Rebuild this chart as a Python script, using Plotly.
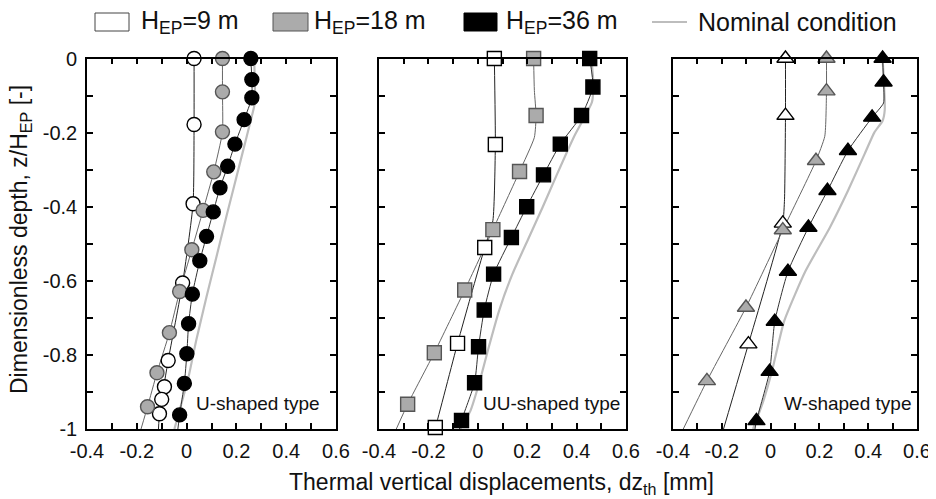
import plotly.graph_objects as go

# ---------------- data ----------------
# Panel 1: U-shaped type (circles)
u9_x = [0.03, 0.03, 0.026, -0.016, -0.074, -0.089, -0.10, -0.109]
u9_y = [0, -0.178, -0.392, -0.606, -0.815, -0.886, -0.92, -0.959]
u9_lx = [0.03, 0.03, 0.026, -0.016, -0.074, -0.109, -0.113]
u9_ly = [0, -0.178, -0.392, -0.606, -0.815, -0.959, -1.0]

u18_x = [0.144, 0.144, 0.144, 0.109, 0.066, 0.021, -0.028, -0.069, -0.119, -0.157]
u18_y = [0, -0.09, -0.198, -0.306, -0.41, -0.516, -0.629, -0.74, -0.848, -0.94]
u18_lx = u18_x + [-0.183]
u18_ly = u18_y + [-1.0]

u36_x = [0.258, 0.262, 0.262, 0.231, 0.194, 0.165, 0.134, 0.107, 0.08, 0.053, 0.023, 0.008, 0.001, -0.009, -0.028]
u36_y = [0, -0.057, -0.106, -0.165, -0.231, -0.291, -0.349, -0.414, -0.48, -0.546, -0.636, -0.716, -0.797, -0.877, -0.962]
u36_lx = u36_x + [-0.035]
u36_ly = u36_y + [-1.0]

unom_x = [0.271, 0.274, 0.255, 0.228, 0.194, 0.160, 0.120, 0.080, 0.039, 0.005, -0.028, -0.049]
unom_y = [0, -0.12, -0.174, -0.246, -0.336, -0.426, -0.535, -0.643, -0.76, -0.868, -0.949, -1.0]

# Panel 2: UU-shaped type (squares)
uu9_x = [0.067, 0.071, 0.028, -0.082, -0.172]
uu9_y = [0, -0.232, -0.51, -0.769, -0.996]
uu9_lx = [0.067, 0.071, 0.061, 0.028, -0.030, -0.082, -0.172, -0.175]
uu9_ly = [0, -0.232, -0.438, -0.51, -0.645, -0.769, -0.996, -1.0]

uu18_x = [0.226, 0.236, 0.169, 0.061, -0.053, -0.176, -0.284]
uu18_y = [0, -0.154, -0.305, -0.462, -0.625, -0.794, -0.933]
uu18_lx = [0.226, 0.229, 0.236, 0.229, 0.169, 0.061, -0.053, -0.176, -0.284, -0.33]
uu18_ly = [0, -0.086, -0.154, -0.213, -0.305, -0.462, -0.625, -0.794, -0.933, -1.0]

uu36_x = [0.453, 0.466, 0.420, 0.334, 0.266, 0.198, 0.136, 0.064, 0.026, 0.003, -0.013, -0.066]
uu36_y = [0, -0.077, -0.154, -0.231, -0.314, -0.400, -0.483, -0.582, -0.679, -0.778, -0.875, -0.977]
uu36_lx = uu36_x + [-0.074]
uu36_ly = uu36_y + [-1.0]

uunom_x = [0.460, 0.468, 0.462, 0.388, 0.321, 0.262, 0.207, 0.140, 0.086, 0.044, 0.006, -0.030, -0.071]
uunom_y = [0, -0.07, -0.118, -0.213, -0.312, -0.402, -0.483, -0.582, -0.681, -0.780, -0.875, -0.951, -1.0]

# Panel 3: W-shaped type (triangles)
w9_x = [0.061, 0.061, 0.05, -0.091]
w9_y = [0, -0.154, -0.445, -0.771]
w9_lx = [0.061, 0.061, 0.057, 0.05, -0.091, -0.193]
w9_ly = [0, -0.154, -0.38, -0.445, -0.771, -1.0]

w18_x = [0.229, 0.229, 0.186, 0.050, -0.101, -0.261]
w18_y = [0, -0.088, -0.276, -0.463, -0.672, -0.87]
w18_lx = [0.229, 0.229, 0.222, 0.186, 0.050, -0.101, -0.261, -0.358]
w18_ly = [0, -0.088, -0.21, -0.276, -0.463, -0.672, -0.87, -1.0]

w36_x = [0.459, 0.463, 0.416, 0.317, 0.233, 0.155, 0.071, 0.017, -0.004, -0.058]
w36_y = [0, -0.064, -0.159, -0.249, -0.357, -0.456, -0.575, -0.71, -0.845, -0.978]
w36_lx = [0.459, 0.463, 0.463, 0.416, 0.317, 0.233, 0.155, 0.071, 0.017, -0.004, -0.058, -0.064]
w36_ly = [0, -0.064, -0.12, -0.159, -0.249, -0.357, -0.456, -0.575, -0.71, -0.845, -0.978, -1.0]

wnom_x = [0.459, 0.468, 0.459, 0.425, 0.385, 0.317, 0.243, 0.142, 0.055, 0.006, -0.030, -0.072]
wnom_y = [0, -0.137, -0.168, -0.2, -0.258, -0.357, -0.456, -0.575, -0.71, -0.843, -0.925, -1.0]

panel_names = ["U-shaped type", "UU-shaped type", "W-shaped type"]
legend_labels = ["H<sub>EP</sub>=9 m", "H<sub>EP</sub>=18 m", "H<sub>EP</sub>=36 m", "Nominal condition"]

x_ticks = [-0.4, -0.2, 0.0, 0.2, 0.4, 0.6]
x_ticktext = ["-0.4", "-0.2", "0", "0.2", "0.4", "0.6"]
y_ticks = [0.0, -0.2, -0.4, -0.6, -0.8, -1.0]
y_ticktext = ["0", "-0.2", "-0.4", "-0.6", "-0.8", "-1"]

# ---------------- styles ----------------
W, H = 936, 499
OFF = 8  # page body margin offset


def px(x):
    return (x - OFF) / W


def py(y):
    return 1 - (y - OFF) / H


FONT = "Arial, Liberation Sans, sans-serif"
NOM_COLOR = "#bdbdbd"
GRAY_FILL = "#ababab"

panels = [
    dict(sym="circle", d9=(u9_x, u9_y, u9_lx, u9_ly), d18=(u18_x, u18_y, u18_lx, u18_ly),
         d36=(u36_x, u36_y, u36_lx, u36_ly), nom=(unom_x, unom_y), size=14),
    dict(sym="square", d9=(uu9_x, uu9_y, uu9_lx, uu9_ly), d18=(uu18_x, uu18_y, uu18_lx, uu18_ly),
         d36=(uu36_x, uu36_y, uu36_lx, uu36_ly), nom=(uunom_x, uunom_y), size=14),
    dict(sym="triangle-up", d9=(w9_x, w9_y, w9_lx, w9_ly), d18=(w18_x, w18_y, w18_lx, w18_ly),
         d36=(w36_x, w36_y, w36_lx, w36_ly), nom=(wnom_x, wnom_y), size=15),
]

x_domains_px = [(87, 336), (379, 626), (673, 917)]
y_domain = [py(429), py(58.5)]
label_right = [0.944, 0.982, 0.984]

fig = go.Figure()

for i, p in enumerate(panels):
    xa = "x" if i == 0 else f"x{i+1}"
    ya = "y" if i == 0 else f"y{i+1}"
    fig.add_trace(go.Scatter(x=p["nom"][0], y=p["nom"][1], mode="lines",
                             line=dict(color=NOM_COLOR, width=2.2, shape="spline", smoothing=0.5),
                             xaxis=xa, yaxis=ya, showlegend=False, hoverinfo="skip"))
    for key, col in (("d9", "#222222"), ("d18", "#666666"), ("d36", "#333333")):
        lx, ly = p[key][2], p[key][3]
        fig.add_trace(go.Scatter(x=lx, y=ly, mode="lines",
                                 line=dict(color=col, width=1, shape="spline", smoothing=0.5),
                                 xaxis=xa, yaxis=ya, showlegend=False, hoverinfo="skip"))
    for key, fill, outline in (("d9", "white", "black"), ("d18", GRAY_FILL, "#555555"), ("d36", "black", "black")):
        mx, my = p[key][0], p[key][1]
        fig.add_trace(go.Scatter(x=mx, y=my, mode="markers", cliponaxis=False,
                                 marker=dict(symbol=p["sym"], size=p["size"], color=fill,
                                             line=dict(color=outline, width=1.4)),
                                 xaxis=xa, yaxis=ya, showlegend=False))
    fig.add_annotation(x=label_right[i], y=-0.932, xref=f"{xa} domain", yref=ya,
                       text=panel_names[i], showarrow=False, xanchor="right", yanchor="middle",
                       font=dict(family=FONT, size=19, color="#111"))

minor = dict(dtick=0.1, tick0=0, ticks="inside", ticklen=6, tickwidth=1.5, tickcolor="black", showgrid=False)
axis_common = dict(showline=True, linecolor="black", linewidth=1.6, mirror="allticks",
                   ticks="inside", ticklen=6, tickwidth=1.5, tickcolor="black",
                   showgrid=False, zeroline=False, automargin=False,
                   tickfont=dict(family=FONT, size=20, color="#111"), minor=minor)

layout = dict(width=W, height=H, margin=dict(l=0, r=0, t=0, b=0, pad=0, autoexpand=False),
              paper_bgcolor="white", plot_bgcolor="white", showlegend=False)
for i, (a, b) in enumerate(x_domains_px):
    xk = "xaxis" if i == 0 else f"xaxis{i+1}"
    yk = "yaxis" if i == 0 else f"yaxis{i+1}"
    ya = "y" if i == 0 else f"y{i+1}"
    xa = "x" if i == 0 else f"x{i+1}"
    layout[xk] = dict(axis_common, domain=[px(a), px(b)], range=[-0.4, 0.6], anchor=ya,
                      tickvals=x_ticks, ticktext=x_ticktext, ticklabelstandoff=3)
    layout[yk] = dict(axis_common, domain=y_domain, range=[-1.0, 0.0], anchor=xa,
                      tickvals=y_ticks, ticktext=y_ticktext, showticklabels=(i == 0),
                      ticklabelstandoff=4)
fig.update_layout(**layout)

# axis titles
fig.add_annotation(x=px(501), y=py(483), xref="paper", yref="paper", showarrow=False,
                   text="Thermal vertical displacements, dz<sub>th</sub> [mm]",
                   font=dict(family=FONT, size=23, color="#111"), xanchor="center", yanchor="middle")
fig.add_annotation(x=px(20), y=py(240), xref="paper", yref="paper", showarrow=False,
                   text="Dimensionless depth, z/H<sub>EP</sub> [-]", textangle=-90,
                   font=dict(family=FONT, size=23, color="#111"), xanchor="center", yanchor="middle")

# manual legend
box_px = [(95, 129, "white", "#444444"), (273, 308, GRAY_FILL, "#555555"), (464, 497, "black", "black")]
text_px = [139, 312, 504, 696]
for (a, b, fc, lc) in box_px:
    fig.add_shape(type="rect", xref="paper", yref="paper", x0=px(a), x1=px(b),
                  y0=py(31), y1=py(13), fillcolor=fc, line=dict(color=lc, width=1))
fig.add_shape(type="line", xref="paper", yref="paper", x0=px(652), x1=px(687),
              y0=py(22), y1=py(22), line=dict(color=NOM_COLOR, width=2.2))
for tx, lab in zip(text_px, legend_labels):
    fig.add_annotation(x=px(tx), y=py(22), xref="paper", yref="paper", showarrow=False,
                       text=lab, xanchor="left", yanchor="middle",
                       font=dict(family=FONT, size=25, color="#111"))

fig.write_html("out.html")
